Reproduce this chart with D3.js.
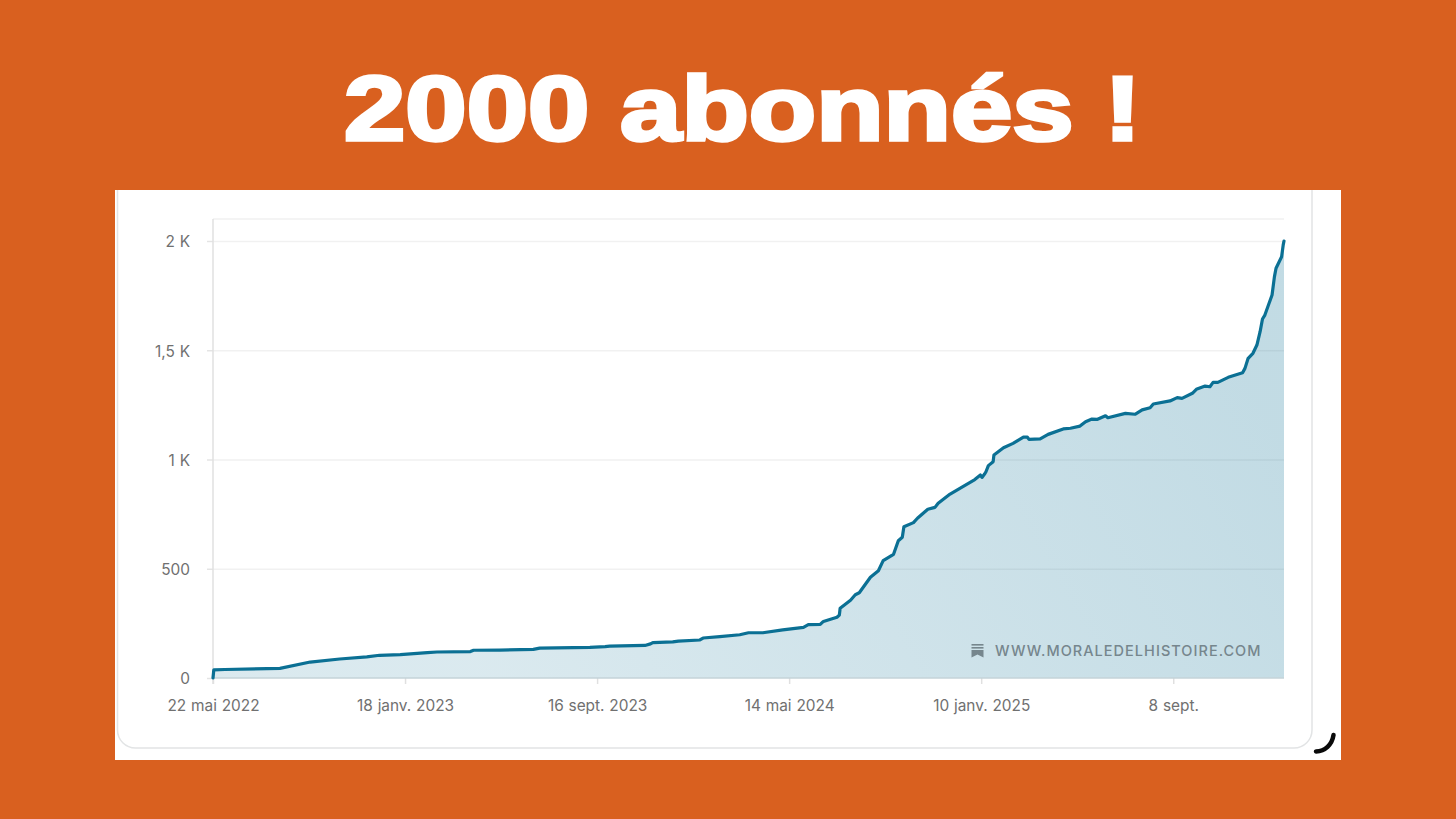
<!DOCTYPE html>
<html lang="fr">
<head>
<meta charset="utf-8">
<title>2000 abonnés !</title>
<script src="https://cdn.jsdelivr.net/npm/d3@7"></script>
<style>
    html, body { margin: 0; padding: 0; background: #d9601f; }
    svg { display: block; }
    .tick text { font-family: Inter, sans-serif; font-size: 15.4px; word-spacing: 0.5px; fill: #707070; }
</style>
</head>
<body>
<script>
// values
const startDate = new Date(Date.UTC(2022, 4, 22));
const dayOffsets = [0, 1, 15, 84, 122, 159, 193, 209, 235, 269, 281, 323, 327, 360, 402, 410, 473, 492, 498, 542, 549, 552, 577, 584, 611, 615, 636, 661, 672, 690, 715, 741, 747, 762, 766, 783, 786, 787, 800, 806, 811, 825, 835, 841, 854, 860, 865, 867, 879, 884, 897, 906, 910, 925, 941, 956, 963, 965, 968, 970, 973, 979, 980, 992, 1004, 1017, 1022, 1024, 1038, 1048, 1067, 1076, 1088, 1095, 1103, 1110, 1120, 1123, 1145, 1157, 1166, 1176, 1180, 1201, 1210, 1216, 1229, 1234, 1245, 1251, 1255, 1261, 1274, 1292, 1295, 1299, 1305, 1310, 1314, 1317, 1320, 1329, 1332, 1334, 1341, 1343, 1344];
const subscribers = [0, 37, 39, 44, 73, 87, 97, 104, 107, 116, 119, 121, 127, 128, 131, 137, 140, 144, 146, 149, 156, 162, 165, 169, 174, 183, 189, 198, 207, 207, 220, 232, 244, 245, 259, 278, 288, 319, 356, 381, 390, 461, 491, 537, 566, 628, 644, 692, 711, 731, 772, 781, 800, 842, 876, 908, 929, 918, 932, 944, 972, 990, 1021, 1054, 1074, 1102, 1102, 1092, 1094, 1115, 1140, 1143, 1153, 1173, 1185, 1184, 1200, 1191, 1211, 1207, 1227, 1237, 1254, 1268, 1283, 1280, 1303, 1321, 1336, 1333, 1353, 1353, 1376, 1397, 1417, 1463, 1486, 1524, 1585, 1643, 1661, 1753, 1837, 1875, 1928, 1982, 2000];
const xTickDays = [0, 241, 482, 723, 964, 1205];
const xTickLabels = ['22 mai 2022', '18 janv. 2023', '16 sept. 2023', '14 mai 2024', '10 janv. 2025', '8 sept.'];
const yTickValues = [0, 500, 1000, 1500, 2000];
const yTickLabels = ['0', '500', '1 K', '1,5 K', '2 K'];
const titleText = '2000 abonnés !';
const watermarkText = 'WWW.MORALEDELHISTOIRE.COM';

const width = 1456;
const height = 819;
const toDate = n => d3.utcDay.offset(startDate, n);

const x = d3.scaleUtc().domain([startDate, toDate(1344)]).range([213, 1284]);
const y = d3.scaleLinear().domain([0, 2000]).range([678, 241]);

const points = dayOffsets.map((d, i) => ({ date: toDate(d), value: subscribers[i] }));

const svg = d3.select('body').append('svg')
    .attr('width', width)
    .attr('height', height);

svg.append('rect').attr('width', width).attr('height', height).attr('fill', '#d9601f');

svg.append('text')
    .attr('x', 344)
    .attr('y', 140)
    .attr('font-family', '"Liberation Sans", sans-serif')
    .attr('font-weight', 700)
    .attr('font-size', 90)
    .attr('textLength', 797)
    .attr('lengthAdjust', 'spacingAndGlyphs')
    .attr('fill', '#fff')
    .attr('stroke', '#fff')
    .attr('stroke-width', 3.5)
    .text(titleText);

// white panel and the card inside it
svg.append('rect').attr('x', 115).attr('y', 190).attr('width', 1226).attr('height', 570).attr('fill', '#fff');
svg.append('path')
    .attr('d', 'M117.5,190V730a18,18 0 0 0 18,18H1294a18,18 0 0 0 18,-18V190')
    .attr('fill', '#fff')
    .attr('stroke', '#e2e4e5')
    .attr('stroke-width', 1.5);
svg.append('path')
    .attr('d', 'M1316,751.5C1325,751 1332,745 1333.5,735')
    .attr('fill', 'none')
    .attr('stroke', '#0a0a0a')
    .attr('stroke-width', 4.5)
    .attr('stroke-linecap', 'round');

// top frame line
svg.append('line')
    .attr('x1', 213).attr('x2', 1284).attr('y1', 219).attr('y2', 219)
    .attr('stroke', '#f0f0f0').attr('stroke-width', 1.5);

const yAxis = svg.append('g')
    .attr('transform', 'translate(213,0)')
    .call(d3.axisLeft(y)
        .tickValues(yTickValues)
        .tickFormat((d, i) => yTickLabels[i])
        .tickSize(6)
        .tickPadding(17));
yAxis.select('.domain').remove();
yAxis.selectAll('.tick text').attr('dy', '0.38em');
yAxis.selectAll('.tick line').attr('stroke', '#e4e4e4').attr('stroke-width', 1.5);
yAxis.selectAll('.tick').filter(d => d > 0).append('line')
    .attr('x1', 0).attr('x2', 1071)
    .attr('stroke', '#f1f1f1').attr('stroke-width', 1.5);

const xAxis = svg.append('g')
    .attr('transform', 'translate(0,678)')
    .call(d3.axisBottom(x)
        .tickValues(xTickDays.map(toDate))
        .tickFormat((d, i) => xTickLabels[i])
        .tickSize(6)
        .tickPadding(16));
xAxis.select('.domain').remove();
xAxis.selectAll('.tick line').attr('stroke', '#e0e0e0').attr('stroke-width', 1.5);

svg.append('line')
    .attr('x1', 213).attr('x2', 213).attr('y1', 219).attr('y2', 684)
    .attr('stroke', '#e0e0e0').attr('stroke-width', 1.5);

const grad = svg.append('defs').append('linearGradient')
    .attr('id', 'areaFill')
    .attr('gradientUnits', 'userSpaceOnUse')
    .attr('x1', 500).attr('y1', 700)
    .attr('x2', 1200).attr('y2', 300);
grad.append('stop').attr('offset', 0).attr('stop-color', '#0b7094').attr('stop-opacity', 0.15);
grad.append('stop').attr('offset', 1).attr('stop-color', '#0b7094').attr('stop-opacity', 0.25);

svg.append('path')
    .datum(points)
    .attr('fill', 'url(#areaFill)')
    .attr('d', d3.area().x(d => x(d.date)).y0(y(0)).y1(d => y(d.value)));

svg.append('line')
    .attr('x1', 213).attr('x2', 1284).attr('y1', 678).attr('y2', 678)
    .attr('stroke', '#c4d3d9').attr('stroke-width', 1.5);

svg.append('path')
    .datum(points)
    .attr('fill', 'none')
    .attr('stroke', '#0b7094')
    .attr('stroke-width', 3.2)
    .attr('stroke-linejoin', 'round')
    .attr('stroke-linecap', 'round')
    .attr('d', d3.line().x(d => x(d.date)).y(d => y(d.value)));

// watermark, bookmark icon then address
const mark = svg.append('g').attr('fill', '#76868d');
mark.append('rect').attr('x', 971.5).attr('y', 644).attr('width', 12).attr('height', 1.6);
mark.append('rect').attr('x', 971.5).attr('y', 647).attr('width', 12).attr('height', 1.6);
mark.append('path').attr('d', 'M971.5,650h12v7.5l-6,-3l-6,3z');
mark.append('text')
    .attr('x', 995)
    .attr('y', 655.5)
    .attr('font-family', 'Inter, sans-serif')
    .attr('font-size', 14.5)
    .attr('font-weight', 500)
    .attr('letter-spacing', 1.03)
    .text(watermarkText);
</script>
</body>
</html>
